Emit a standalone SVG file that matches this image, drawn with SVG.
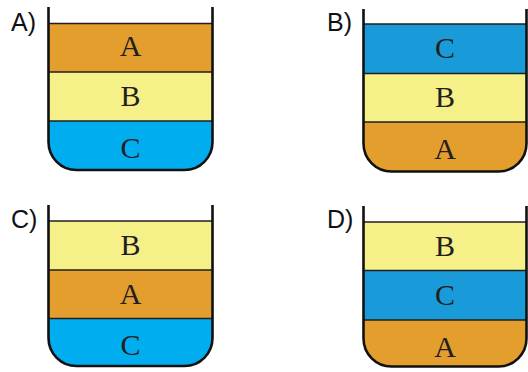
<svg xmlns="http://www.w3.org/2000/svg" width="528" height="372" viewBox="0 0 528 372">
<style>
.lbl{font-family:"Liberation Sans",Arial,sans-serif;font-size:25px;fill:#111}
.ltr{font-family:"Liberation Serif","Times New Roman",serif;font-size:30px;fill:#231F20;text-anchor:middle}
.or{fill:#E39E2E}
.ye{fill:#F5F088}
.cy{fill:#00AEEF}
.bl{fill:#189BD8}
.div{stroke:#231F20;stroke-width:1.6;fill:none}
.wall{stroke:#111;stroke-width:2.6;fill:none;stroke-linejoin:round}
</style>
<rect width="528" height="372" fill="#fff"/>
<g id="panelA">
<text class="lbl" x="11" y="31">A)</text>
<rect class="or" x="48.5" y="23.5" width="164" height="48.5"/>
<rect class="ye" x="48.5" y="72" width="164" height="49"/>
<path class="cy" d="M48.5,121 H212.5 V142 A28,28 0 0 1 184.5,170 H76.5 A28,28 0 0 1 48.5,142 Z"/>
<path class="div" d="M48.5,23.5 H212.5 M48.5,72 H212.5 M48.5,121 H212.5"/>
<path class="wall" d="M48.5,7 V142 A28,28 0 0 0 76.5,170 H184.5 A28,28 0 0 0 212.5,142 V7"/>
<text class="ltr" x="130.5" y="56">A</text>
<text class="ltr" x="130.5" y="106">B</text>
<text class="ltr" x="130.5" y="158">C</text>
</g>
<g id="panelB">
<text class="lbl" x="327" y="31">B)</text>
<rect class="bl" x="363.5" y="24" width="163" height="49.5"/>
<rect class="ye" x="363.5" y="73.5" width="163" height="48.5"/>
<path class="or" d="M363.5,122 H526.5 V143.5 A28,28 0 0 1 498.5,171.5 H391.5 A28,28 0 0 1 363.5,143.5 Z"/>
<path class="div" d="M363.5,24 H526.5 M363.5,73.5 H526.5 M363.5,122 H526.5"/>
<path class="wall" d="M363.5,9 V143.5 A28,28 0 0 0 391.5,171.5 H498.5 A28,28 0 0 0 526.5,143.5 V9"/>
<text class="ltr" x="445" y="58">C</text>
<text class="ltr" x="445" y="107">B</text>
<text class="ltr" x="445" y="159">A</text>
</g>
<g id="panelC">
<text class="lbl" x="11" y="228">C)</text>
<rect class="ye" x="48.5" y="221" width="164" height="49"/>
<rect class="or" x="48.5" y="270" width="164" height="48.5"/>
<path class="cy" d="M48.5,318.5 H212.5 V338 A28,28 0 0 1 184.5,366 H76.5 A28,28 0 0 1 48.5,338 Z"/>
<path class="div" d="M48.5,221 H212.5 M48.5,270 H212.5 M48.5,318.5 H212.5"/>
<path class="wall" d="M48.5,205 V338 A28,28 0 0 0 76.5,366 H184.5 A28,28 0 0 0 212.5,338 V205"/>
<text class="ltr" x="130.5" y="255">B</text>
<text class="ltr" x="130.5" y="304">A</text>
<text class="ltr" x="130.5" y="355">C</text>
</g>
<g id="panelD">
<text class="lbl" x="327" y="228">D)</text>
<rect class="ye" x="363.5" y="222" width="163" height="48.5"/>
<rect class="bl" x="363.5" y="270.5" width="163" height="49.5"/>
<path class="or" d="M363.5,320 H526.5 V338.5 A28,28 0 0 1 498.5,366.5 H391.5 A28,28 0 0 1 363.5,338.5 Z"/>
<path class="div" d="M363.5,222 H526.5 M363.5,270.5 H526.5 M363.5,320 H526.5"/>
<path class="wall" d="M363.5,206 V338.5 A28,28 0 0 0 391.5,366.5 H498.5 A28,28 0 0 0 526.5,338.5 V206"/>
<text class="ltr" x="445" y="256">B</text>
<text class="ltr" x="445" y="305">C</text>
<text class="ltr" x="445" y="357">A</text>
</g>
</svg>
